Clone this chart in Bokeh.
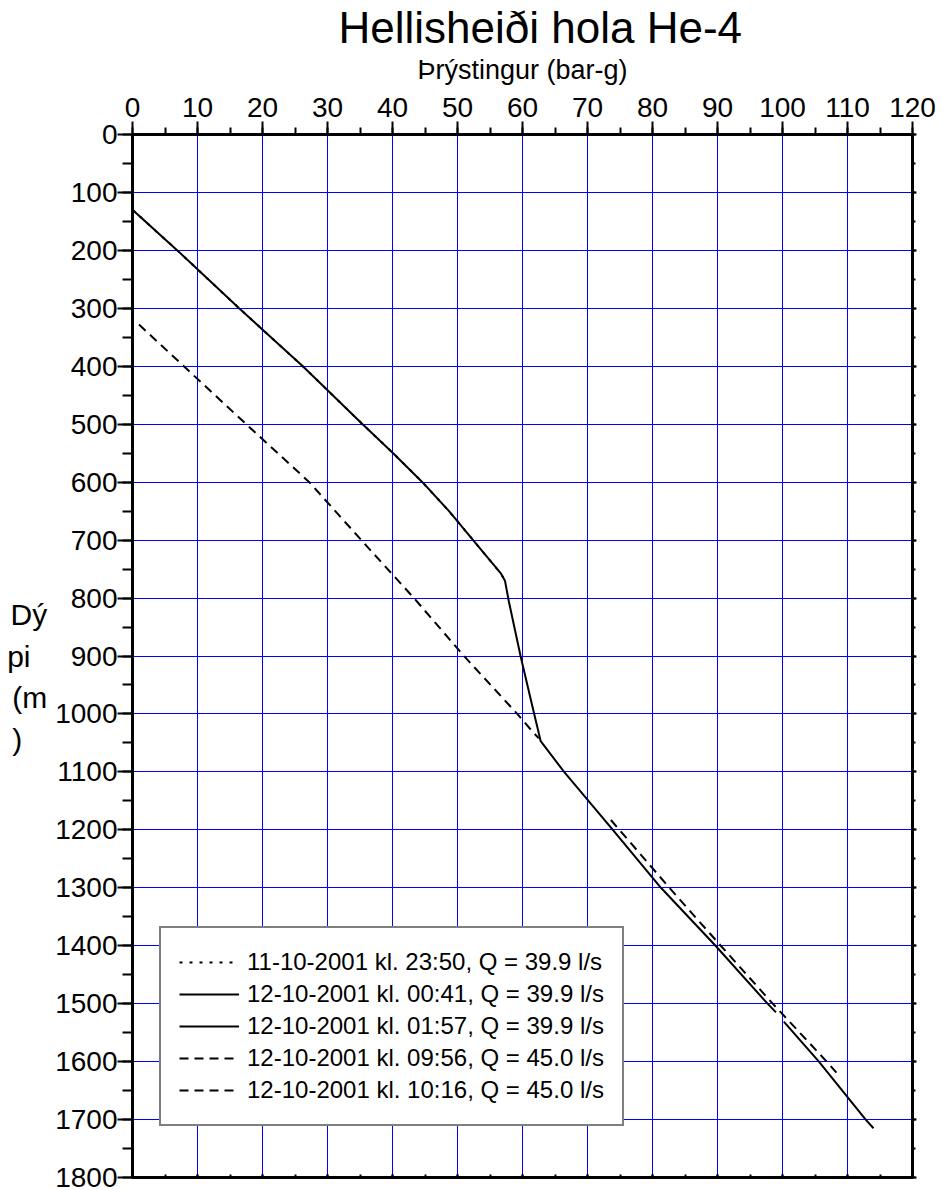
from bokeh.plotting import figure
from bokeh.models import Range1d, LinearAxis, SingleIntervalTicker, Legend, LegendItem
from bokeh.embed import file_html
from bokeh.resources import INLINE

# ---------------- data (pressure in bar-g, depth in m) ----------------
dot_p = [0.0, 6.9, 16.4, 26.2, 35.4, 40.1, 44.6, 48.7, 52.4, 56.7, 57.3]
dot_d = [130, 200, 300, 400, 500, 550, 600, 650, 700, 758, 770]

sol1_p = [0.0, 6.9, 16.4, 26.2, 35.4, 40.1, 44.6, 48.7, 52.4, 56.7, 57.3, 57.9, 59.7, 61.8, 62.8, 66.4, 73.9, 81.3, 89.7, 97.7, 99.0]
sol1_d = [130, 200, 300, 400, 500, 550, 600, 650, 700, 758, 770, 806, 900, 1000, 1047, 1100, 1200, 1300, 1400, 1500, 1515]

sol2_p = [100.2, 105.6, 112.8, 114.0]
sol2_d = [1531, 1600, 1700, 1715]

das1_p = [1.0, 7.9, 17.5, 27.2, 35.2, 43.3, 51.0, 59.2, 61.5, 62.5]
das1_d = [328, 400, 500, 600, 700, 800, 900, 1000, 1030, 1042]

das2_p = [73.6, 82.6, 90.5, 98.5, 106.8, 108.3]
das2_d = [1183, 1300, 1400, 1500, 1600, 1619]

labels = [
    "11-10-2001 kl. 23:50, Q = 39.9 l/s",
    "12-10-2001 kl. 00:41, Q = 39.9 l/s",
    "12-10-2001 kl. 01:57, Q = 39.9 l/s",
    "12-10-2001 kl. 09:56, Q = 45.0 l/s",
    "12-10-2001 kl. 10:16, Q = 45.0 l/s",
]
title_text = "Hellisheiði hola He-4"
xlabel_text = "Þrýstingur (bar-g)"
ylabel_text = "\nDý\npi\u00a0\u00a0\n(m\n)\u00a0\u00a0\u00a0"

FONT = "Liberation Sans"
INK = "black"

p = figure(width=943, height=1190, x_range=Range1d(0, 120), y_range=Range1d(1800, 0),
           x_axis_location="above", output_backend="svg", toolbar_location=None,
           min_border_left=132, min_border_right=31, min_border_top=133, min_border_bottom=13,
           title=title_text)

p.title.align = "left"
p.title.offset = 206
p.title.text_font = FONT
p.title.text_font_size = "44px"
p.title.text_font_style = "normal"
p.title.text_color = INK
p.title.standoff = 0

p.outline_line_color = INK
p.outline_line_width = 3

xa = p.xaxis[0]
xa.ticker = SingleIntervalTicker(interval=10, num_minor_ticks=2)
xa.axis_label = xlabel_text
xa.axis_label_text_font = FONT
xa.axis_label_text_font_size = "27px"
xa.axis_label_text_font_style = "normal"
xa.axis_label_text_color = INK
xa.axis_label_standoff = 10
xa.major_label_text_font = FONT
xa.major_label_text_font_size = "28px"
xa.major_label_text_color = INK
xa.major_label_standoff = 5
xa.major_tick_out = 13
xa.major_tick_in = 0
xa.minor_tick_out = 7
xa.minor_tick_in = 0
xa.axis_line_width = 3
xa.major_tick_line_width = 2
xa.minor_tick_line_width = 2

ya = p.yaxis[0]
ya.ticker = SingleIntervalTicker(interval=100, num_minor_ticks=2)
ya.major_label_text_font = FONT
ya.major_label_text_font_size = "28px"
ya.major_label_text_color = INK
ya.major_label_standoff = 0
ya.major_tick_out = 15
ya.major_tick_in = 0
ya.minor_tick_out = 10
ya.minor_tick_in = 0
ya.axis_line_width = 3
ya.major_tick_line_width = 2
ya.minor_tick_line_width = 2
ya.axis_label = ylabel_text
ya.axis_label_orientation = "horizontal"
ya.axis_label_text_font = FONT
ya.axis_label_text_font_size = "30px"
ya.axis_label_text_font_style = "normal"
ya.axis_label_text_color = INK
ya.axis_label_text_line_height = 1.27
ya.axis_label_text_align = "left"
ya.axis_label_standoff = 5

ra = LinearAxis(ticker=SingleIntervalTicker(interval=100, num_minor_ticks=2),
                major_label_text_font_size="0px", major_label_standoff=0,
                major_tick_out=4, major_tick_in=0, minor_tick_out=3, minor_tick_in=0,
                axis_line_width=3, major_tick_line_width=2, minor_tick_line_width=2)
p.add_layout(ra, "right")
ba = LinearAxis(ticker=SingleIntervalTicker(interval=10, num_minor_ticks=2),
                major_label_text_font_size="0px", major_label_standoff=0,
                major_tick_out=0, major_tick_in=3, minor_tick_out=0, minor_tick_in=3,
                axis_line_width=3, major_tick_line_width=2, minor_tick_line_width=2)
p.add_layout(ba, "below")

p.grid.grid_line_color = "#0000ff"
p.grid.grid_line_alpha = 1.0
p.grid.grid_line_width = 1

r_dot = p.line(dot_p, dot_d, line_color=INK, line_width=2, line_dash="3 7")
r_s1 = p.line(sol1_p, sol1_d, line_color=INK, line_width=2)
r_s2 = p.line(sol2_p, sol2_d, line_color=INK, line_width=2)
r_d1 = p.line(das1_p, das1_d, line_color=INK, line_width=2, line_dash="9 6")
r_d2 = p.line(das2_p, das2_d, line_color=INK, line_width=2, line_dash="9 6")

legend = Legend(items=[LegendItem(label=labels[0], renderers=[r_dot]),
                       LegendItem(label=labels[1], renderers=[r_s1]),
                       LegendItem(label=labels[2], renderers=[r_s2]),
                       LegendItem(label=labels[3], renderers=[r_d1]),
                       LegendItem(label=labels[4], renderers=[r_d2])],
                location=(27, 51))
legend.label_text_font = FONT
legend.label_text_font_size = "24px"
legend.label_text_color = INK
legend.glyph_width = 60
legend.glyph_height = 32
legend.label_height = 32
legend.label_standoff = 8
legend.padding = 18
legend.spacing = 0
legend.margin = 0
legend.border_line_color = INK
legend.border_line_width = 2
legend.background_fill_color = "white"
legend.background_fill_alpha = 1.0
p.add_layout(legend)

open("out.html", "w").write(file_html(p, INLINE))
